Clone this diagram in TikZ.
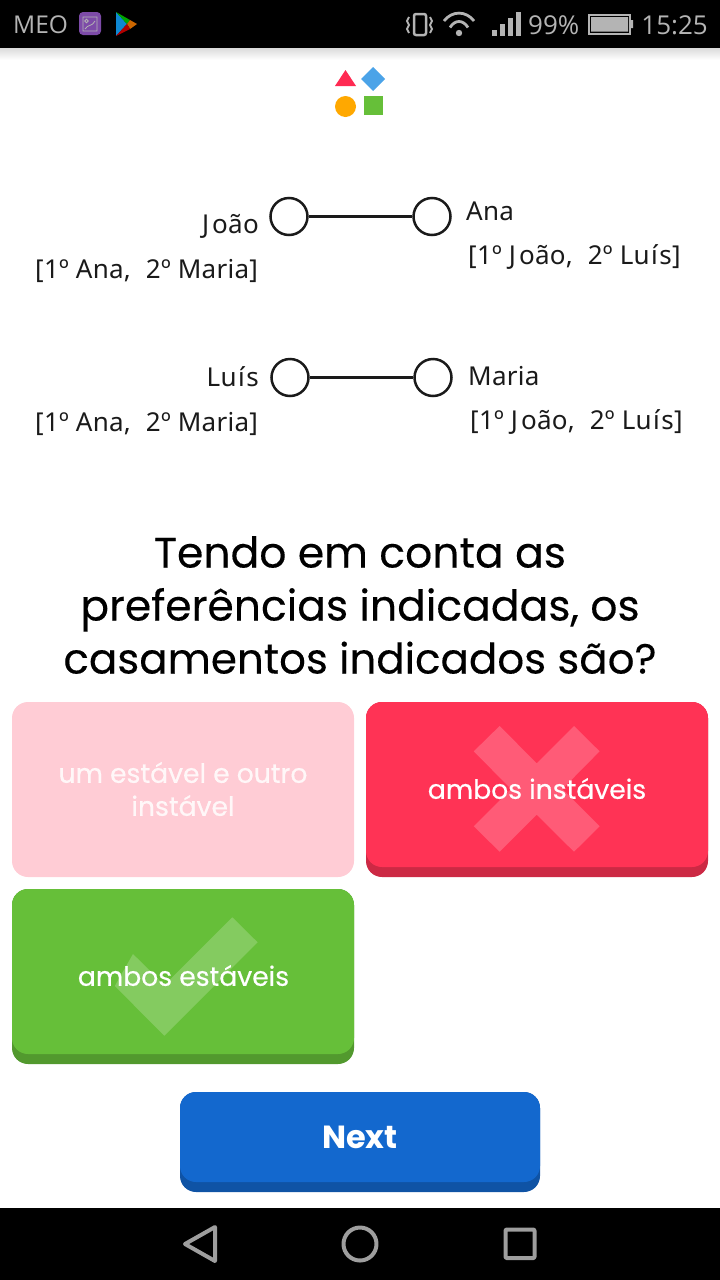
\documentclass[tikz,border=0pt]{standalone}
\usepackage{fontspec}
\setmainfont{Open Sans}
\newfontfamily\headfont[FakeBold=0.25]{Poppins}
\newfontfamily\choicefont[FakeBold=0.4]{Poppins}
\newfontfamily\nextfont{Poppins}
\newfontfamily\namefont[LetterSpace=1]{Noto Sans}
\newcommand\nameJoao{J\kern3ptoão}
\newcommand\nameLuis{Lu\kern1.5ptí\kern1.5pts}
\newcommand\prefgap{,\kern8pt\ }
\definecolor{inkline}{HTML}{1A1A1A}
\definecolor{barGray}{HTML}{B4B4B4}
\definecolor{navGray}{HTML}{9E9E9E}
\definecolor{logoRed}{HTML}{FF2A52}
\definecolor{logoBlue}{HTML}{4BA3E8}
\definecolor{logoOrange}{HTML}{FFA800}
\definecolor{logoGreen}{HTML}{66BF39}
\definecolor{paleRed}{HTML}{FFCCD5}
\definecolor{hotRed}{HTML}{FF3355}
\definecolor{hotRedDark}{HTML}{CC2944}
\definecolor{okGreen}{HTML}{66BF39}
\definecolor{okGreenDark}{HTML}{52992E}
\definecolor{nextBlue}{HTML}{1368CE}
\definecolor{nextBlueDark}{HTML}{0F53A5}
\definecolor{appPurple}{HTML}{7D4BA8}
\tikzset{
  person/.style={circle,draw=inkline,line width=2.5pt,minimum size=37pt,inner sep=0pt},
  nametext/.style={text=inkline,inner sep=0pt,font=\namefont\fontsize{26}{30}\selectfont},
  bartext/.style={text=barGray,inner sep=0pt,font=\fontsize{26}{30}\selectfont},
  asktext/.style={inner sep=0pt,anchor=base,font=\headfont\fontsize{42.5}{50}\selectfont},
  choicetext/.style={text=white,inner sep=0pt,align=center,font=\choicefont\fontsize{26.6}{33}\selectfont},
  navline/.style={draw=navGray,line width=4pt,line join=round},
}
\begin{document}
\begin{tikzpicture}[x=1pt,y=-1pt]
\useasboundingbox (0,0) rectangle (720,1280);
% bars
\shade[top color=black!14,bottom color=white] (0,48) rectangle (720,60);
\fill[black] (0,0) rectangle (720,48);
\fill[black] (0,1208) rectangle (720,1280);
% status bar
\node[bartext,anchor=base west,font=\fontsize{24.5}{30}\selectfont] (carrier) at (13,33.5) {MEO};
\fill[appPurple,rounded corners=4pt] (79,12) rectangle (101,35);
\draw[barGray,line width=.8pt] (83,17) rectangle (97,31) (85,29) .. controls (88,24) and (92,27) .. (95,21);
\draw[barGray,line width=.8pt] (86.5,21) circle[radius=1.7];
\fill[cyan!70!blue] (116,12) -- (127,24) -- (116,36) -- cycle;
\fill[green!65!black] (116,12) -- (130,20) -- (127,24) -- cycle;
\fill[orange!80!black] (130,20) -- (137,24) -- (130,29) -- (127,24) -- cycle;
\fill[red!70!black] (116,36) -- (127,24) -- (130,29) -- cycle;
\draw[barGray,line width=2.5pt,rounded corners=2pt] (414,14) rectangle (426,35);
\draw[barGray,line width=2pt] (409,17) -- (407,21) -- (409,25) -- (407,29) -- (409,33);
\draw[barGray,line width=2pt] (430,17) -- (432,21) -- (430,25) -- (432,29) -- (430,33);
\draw[barGray,line width=2.8pt] (444,21) .. controls (452,10.5) and (466,10.5) .. (474,21);
\draw[barGray,line width=2.8pt] (450,27.5) .. controls (455,19.5) and (463,19.5) .. (468,27.5);
\fill[barGray] (459,33) circle[radius=3.2];
\foreach \x/\y in {492/30,500/24,508/18,516/12}
  \fill[barGray] (\x,\y) rectangle ++(5,36-\y);
\node[bartext,anchor=base west] (level) at (528,34) {99\%};
\draw[barGray,line width=2pt] (589,15) rectangle (630,33.5);
\fill[barGray] (591,17) rectangle (628,31.5) (631,20) rectangle (633,28);
\node[bartext,anchor=base east] (clock) at (708,34) {15:25};
% logo
\fill[logoRed] (335,86) -- (345.5,70) -- (356,86) -- cycle;
\fill[logoBlue] (373,67) -- (385,79) -- (373,91) -- (361,79) -- cycle;
\fill[logoOrange] (345.5,106.5) circle[radius=10.5];
\fill[logoGreen] (364,96) rectangle (383,115);
% graphs
\node[person] (joao) at (289,216.5) {};
\node[person] (ana) at (432,216.5) {};
\node[person] (luis) at (290,377.5) {};
\node[person] (maria) at (433,377.5) {};
\draw[inkline,line width=2.5pt] (joao) -- (ana);
\draw[inkline,line width=2.5pt] (luis) -- (maria);
\node[nametext,anchor=base east] (nameJ) at (259,233) {\nameJoao};
\node[nametext,anchor=base west] (nameA) at (466,220) {Ana};
\node[nametext,anchor=base east] (nameL) at (259,386) {\nameLuis};
\node[nametext,anchor=base west] (nameM) at (468,385) {Maria};
\node[nametext,anchor=base west] (prefJ) at (35,278) {[1º Ana\prefgap 2º Maria]};
\node[nametext,anchor=base west] (prefA) at (468,264) {[1º \nameJoao\prefgap 2º \nameLuis]};
\node[nametext,anchor=base west] (prefL) at (35,431) {[1º Ana\prefgap 2º Maria]};
\node[nametext,anchor=base west] (prefM) at (470,429) {[1º \nameJoao\prefgap 2º \nameLuis]};
% question
\node[asktext] (ask1) at (360,567.5) {Tendo em conta as};
\node[asktext] (ask2) at (360,620.5) {preferências indicadas, os};
\node[asktext,font=\headfont\fontsize{42}{50}\selectfont] (ask3) at (360,673.5) {casamentos indicados são?};
% answers
\fill[paleRed,rounded corners=16pt] (12,702) rectangle (354,877);
\fill[hotRedDark,rounded corners=16pt] (366,702) rectangle (708,877);
\fill[hotRed,rounded corners=16pt] (366,702) rectangle (708,867);
\fill[okGreenDark,rounded corners=16pt] (12,889) rectangle (354,1064);
\fill[okGreen,rounded corners=16pt] (12,889) rectangle (354,1054);
\fill[white,opacity=.2] (499.6,726) -- (536.7,763.3) -- (574,726) -- (599.6,751.3) -- (562.4,789)
  -- (599.6,826.3) -- (574,851.7) -- (536.7,814.7) -- (499.6,851.7) -- (473.8,826.3)
  -- (511,789) -- (473.8,751.3) -- cycle;
\fill[white,opacity=.2] (232.3,917.3) -- (257.6,942.3) -- (164.4,1035.7) -- (114.8,986)
  -- (133,954) -- (164.4,985.3) -- cycle;
\node[choicetext,text opacity=.85] (pick1) at (183,789) {um estável e outro\\instável};
\node[choicetext] (pick2) at (537,788.5) {ambos instáveis};
\node[choicetext] (pick3) at (183.5,975.5) {ambos estáveis};
% next button
\fill[nextBlueDark,rounded corners=16pt] (180,1092) rectangle (540,1192);
\fill[nextBlue,rounded corners=16pt] (180,1092) rectangle (540,1182);
\node[text=white,inner sep=0pt,font=\nextfont\bfseries\fontsize{32}{36}\selectfont] (next) at (360,1137) {Next};
% navigation
\draw[navline] (215,1227) -- (185,1244) -- (215,1261) -- cycle;
\node[circle,navline,minimum size=33pt,inner sep=0pt] (home) at (360,1244) {};
\draw[navline,rounded corners=1pt] (505.5,1229.5) rectangle (534.5,1258);
\end{tikzpicture}
\end{document}
